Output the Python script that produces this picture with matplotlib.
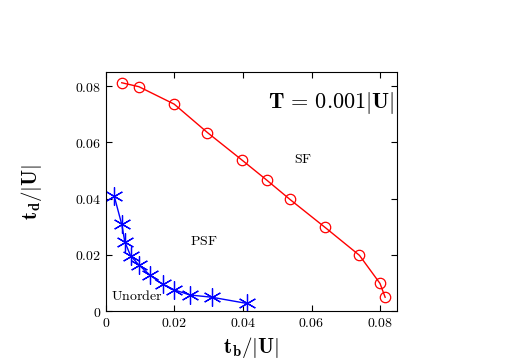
import numpy as np
import matplotlib
matplotlib.use("Agg")
import matplotlib.pyplot as plt
from matplotlib.ticker import FuncFormatter

plt.rcParams['mathtext.fontset'] = 'cm'
plt.rcParams['font.family'] = 'serif'
plt.rcParams['font.serif'] = ['DejaVu Serif']

# SF / PSF boundary
sf_x = [0.0046, 0.0096, 0.0199, 0.0296, 0.0397, 0.0469, 0.0537, 0.0639, 0.0740, 0.0800, 0.0815]
sf_y = [0.0812, 0.0798, 0.0736, 0.0635, 0.0537, 0.0466, 0.0397, 0.0298, 0.0198, 0.0098, 0.0049]

# PSF / Unorder boundary
un_x = [0.0024, 0.0046, 0.0055, 0.0072, 0.0096, 0.0128, 0.0165, 0.0200, 0.0245, 0.0309, 0.0411]
un_y = [0.0409, 0.0308, 0.0246, 0.0196, 0.0164, 0.0128, 0.0095, 0.0075, 0.0057, 0.0049, 0.0027]

xticks = [0, 0.02, 0.04, 0.06, 0.08]
yticks = [0, 0.02, 0.04, 0.06, 0.08]

fig = plt.figure(figsize=(5.26, 3.64), dpi=100)
ax = fig.add_axes([0.2015, 0.1456, 0.5535, 0.6564])

ax.plot(sf_x, sf_y, color='red', lw=1, marker='o', ms=7.5, mfc='none', mec='red', mew=0.9)
ax.plot(un_x, un_y, color='blue', lw=1, marker=(6, 2, 0), ms=13, mec='blue', mew=0.9)

ax.set_xlim(0, 0.085)
ax.set_ylim(0, 0.085)
ax.set_xticks(xticks)
ax.set_yticks(yticks)
fmt = FuncFormatter(lambda v, p: '$0$' if v == 0 else '$%.2f$' % v)
ax.xaxis.set_major_formatter(fmt)
ax.yaxis.set_major_formatter(fmt)
ax.tick_params(direction='in', top=True, right=True, labelsize=10, length=4)

ax.text(0.0575, 0.054, r'$\mathrm{SF}$', fontsize=10, ha='center', va='center')
ax.text(0.0286, 0.025, r'$\mathrm{PSF}$', fontsize=10, ha='center', va='center')
ax.text(0.009, 0.0053, r'$\mathrm{Unorder}$', fontsize=10, ha='center', va='center')
ax.text(0.0843, 0.074, r'$\mathbf{T}\,\mathbf{=}\,\boldsymbol{0.001}|\mathbf{U}|$', fontsize=16,
        ha='right', va='center')

ax.set_xlabel(r'$\mathbf{t_b/|U|}$', fontsize=15, labelpad=4)
ax.set_ylabel(r'$\mathbf{t_d/|U|}$', fontsize=15, labelpad=22)

fig.savefig('out.png', dpi=100)
